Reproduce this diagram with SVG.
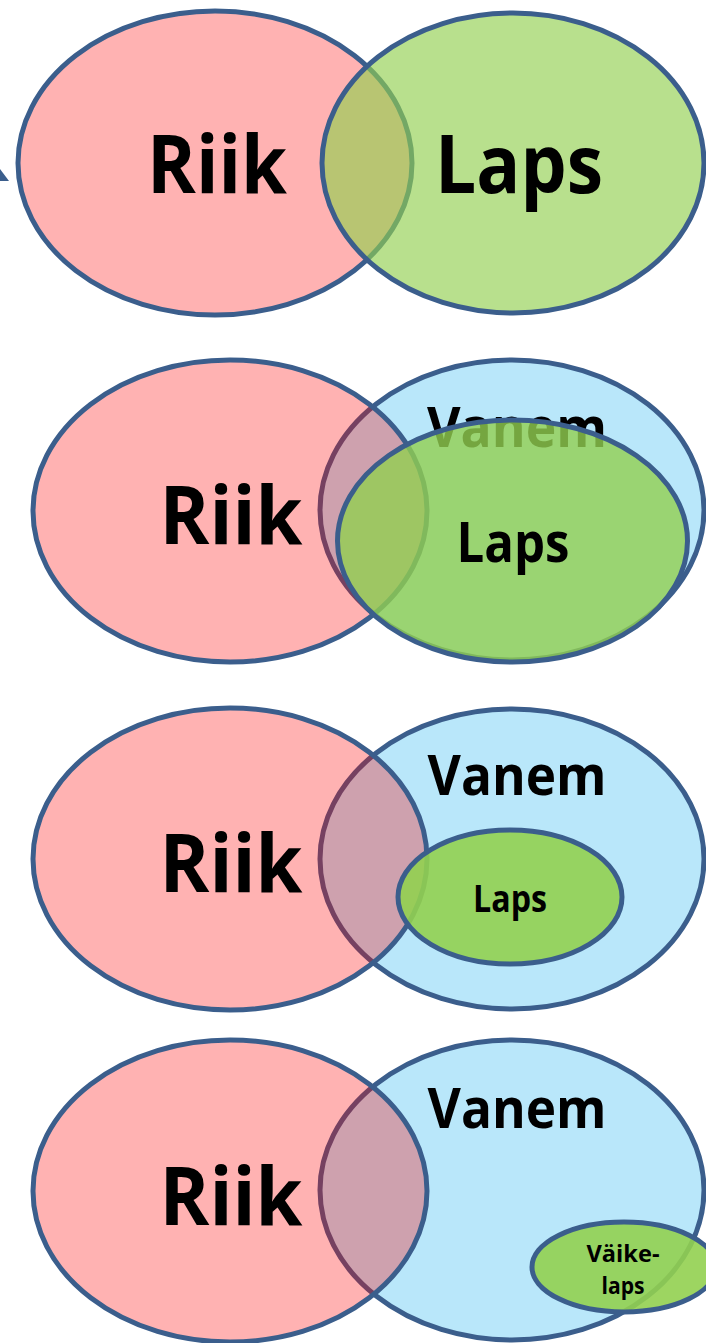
<svg xmlns="http://www.w3.org/2000/svg" width="706" height="1343" viewBox="0 0 706 1343">
<style>
.e{stroke:#3B5E8C;stroke-width:5}
.pink{fill:#FF0000;fill-opacity:0.3}
.blue{fill:#B9E7FA}
.t{font-family:"Open Sans","Liberation Sans",sans-serif;font-weight:700;fill:#000;text-anchor:middle}
</style>
<rect width="706" height="1343" fill="#fff"/>
<polygon points="0,169 9,181 0,181" fill="#3B5E8C"/>
<g id="panel1">
  <g id="p1-riik"><ellipse class="e pink" cx="215" cy="163" rx="197" ry="152"/><text class="t" x="217" y="193" font-size="81" textLength="140" lengthAdjust="spacingAndGlyphs">Riik</text></g>
  <g id="p1-laps"><ellipse class="e" cx="513" cy="163" rx="191" ry="150" fill="#92D050" fill-opacity="0.65"/><text class="t" x="519" y="193" font-size="81" textLength="168" lengthAdjust="spacingAndGlyphs">Laps</text></g>
</g>
<g id="panel2">
  <g id="p2-vanem"><ellipse class="e blue" cx="512" cy="510" rx="192" ry="150"/><text class="t" x="517" y="447" font-size="56" textLength="180" lengthAdjust="spacingAndGlyphs">Vanem</text></g>
  <g id="p2-riik"><ellipse class="e pink" cx="230" cy="511" rx="197" ry="151"/><text class="t" x="231" y="544" font-size="81" textLength="143" lengthAdjust="spacingAndGlyphs">Riik</text></g>
  <g id="p2-laps"><ellipse class="e" cx="512.5" cy="541" rx="175" ry="121" fill="#92D050" fill-opacity="0.8"/><text class="t" x="513" y="562" font-size="55" textLength="113" lengthAdjust="spacingAndGlyphs">Laps</text></g>
</g>
<g id="panel3">
  <g id="p3-vanem"><ellipse class="e blue" cx="512" cy="859" rx="192" ry="150"/><text class="t" x="517" y="795" font-size="56" textLength="179" lengthAdjust="spacingAndGlyphs">Vanem</text></g>
  <g id="p3-riik"><ellipse class="e pink" cx="230" cy="859" rx="197" ry="151"/><text class="t" x="231" y="892" font-size="81" textLength="143" lengthAdjust="spacingAndGlyphs">Riik</text></g>
  <g id="p3-laps"><ellipse class="e" cx="510" cy="897" rx="112" ry="67" fill="#92D050" fill-opacity="0.9"/><text class="t" x="510" y="912" font-size="38" textLength="74" lengthAdjust="spacingAndGlyphs">Laps</text></g>
</g>
<g id="panel4">
  <g id="p4-vanem"><ellipse class="e blue" cx="512" cy="1190" rx="192" ry="150"/><text class="t" x="517" y="1128" font-size="56" textLength="179" lengthAdjust="spacingAndGlyphs">Vanem</text></g>
  <g id="p4-riik"><ellipse class="e pink" cx="230" cy="1191" rx="197" ry="151"/><text class="t" x="231" y="1225" font-size="81" textLength="143" lengthAdjust="spacingAndGlyphs">Riik</text></g>
  <g id="p4-vaikelaps"><ellipse class="e" cx="624" cy="1267" rx="92" ry="45" fill="#92D050" fill-opacity="0.9"/><text class="t" x="623" y="1262" font-size="24" textLength="73" lengthAdjust="spacingAndGlyphs">Väike-</text><text class="t" x="623" y="1294" font-size="24" textLength="43" lengthAdjust="spacingAndGlyphs">laps</text></g>
</g>
<g id="connectors"/>
</svg>
